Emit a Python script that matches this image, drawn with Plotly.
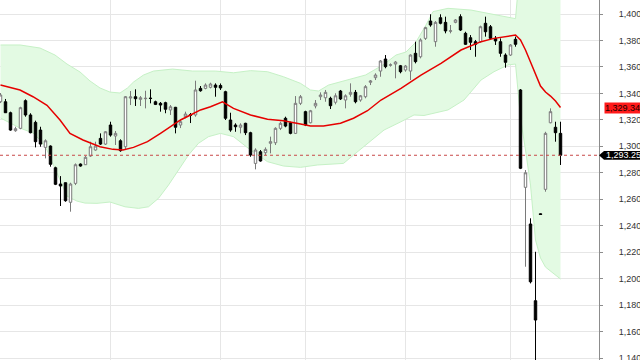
import plotly.graph_objects as go

# ---- candle data ----
opens = [1333.7, 1333.7, 1325.4, 1311.8, 1313.6, 1334.5, 1323.7, 1318.1, 1312.3, 1299.2,
         1300.2, 1283.8, 1271.5, 1272.5, 1257.7, 1272.0, 1286.6, 1286.1, 1292.7, 1297.2,
         1306.0, 1301.7, 1316.1, 1307.8, 1304.2, 1299.7, 1336.5, 1337.5, 1335.5, 1336.0,
         1336.4, 1333.7, 1332.5, 1333.0, 1327.5, 1329.5, 1316.1, 1322.4, 1323.9, 1323.7,
         1343.8, 1343.8, 1344.6, 1346.3, 1346.0, 1341.3, 1319.9, 1316.1, 1314.4, 1317.4,
         1310.3, 1287.1, 1295.9, 1295.2, 1302.3, 1302.7, 1313.6, 1321.2, 1317.8, 1309.8,
         1332.5, 1326.2, 1317.8, 1330.5, 1337.5, 1336.7, 1336.3, 1333.3, 1341.8, 1335.0,
         1339.3, 1340.8, 1335.0, 1337.5, 1348.4, 1351.9, 1356.9, 1366.0, 1361.3, 1362.2,
         1360.9, 1357.7, 1356.9, 1370.3, 1367.7, 1381.6, 1394.7, 1379.1, 1397.2, 1393.7,
         1387.0, 1393.7, 1398.0, 1385.4, 1382.1, 1379.1, 1379.1, 1393.0, 1390.4, 1381.6,
         1379.1, 1369.0, 1369.0, 1380.9, 1342.6, 1269.0, 1241.3, 1183.3, 1249.0, 1267.5,
         1317.8, 1314.4, 1309.8]
highs = [1340.3, 1335.8, 1326.2, 1314.8, 1329.9, 1335.5, 1325.0, 1319.4, 1314.8, 1305.3,
         1300.7, 1284.6, 1277.5, 1272.6, 1272.5, 1287.1, 1287.1, 1292.7, 1303.5, 1303.5,
         1309.8, 1311.5, 1318.6, 1311.6, 1305.3, 1338.0, 1341.8, 1343.1, 1338.0, 1342.0,
         1343.1, 1334.5, 1333.5, 1333.7, 1331.2, 1329.8, 1319.9, 1326.2, 1325.2, 1349.6,
         1345.6, 1347.6, 1348.1, 1347.6, 1347.5, 1342.0, 1325.4, 1317.4, 1317.4, 1317.8,
         1311.0, 1298.5, 1297.2, 1299.2, 1307.3, 1314.4, 1318.6, 1322.4, 1318.6, 1338.0,
         1338.8, 1326.9, 1327.5, 1335.0, 1340.8, 1342.6, 1337.5, 1340.1, 1342.6, 1339.3,
         1347.6, 1342.6, 1338.8, 1346.3, 1350.1, 1355.2, 1365.2, 1369.0, 1362.7, 1364.5,
         1361.5, 1361.5, 1369.5, 1379.1, 1381.6, 1390.4, 1399.8, 1394.7, 1399.8, 1398.0,
         1391.7, 1396.2, 1399.8, 1386.6, 1384.1, 1380.4, 1391.2, 1398.0, 1391.7, 1383.4,
         1381.6, 1370.3, 1377.3, 1382.9, 1343.3, 1282.1, 1245.6, 1220.3, 1249.3, 1311.0,
         1328.7, 1318.6, 1318.6]
lows = [1332.7, 1325.2, 1311.8, 1311.0, 1312.9, 1322.4, 1309.8, 1299.2, 1299.7, 1290.9,
        1284.6, 1270.7, 1254.9, 1258.1, 1250.6, 1270.7, 1284.6, 1285.9, 1292.1, 1296.7,
        1301.0, 1301.0, 1307.3, 1301.0, 1295.9, 1297.2, 1331.2, 1330.5, 1330.5, 1328.7,
        1332.5, 1331.2, 1326.2, 1325.0, 1323.7, 1309.8, 1313.8, 1321.2, 1317.6, 1322.4,
        1341.3, 1343.1, 1343.8, 1337.5, 1342.6, 1319.9, 1311.0, 1311.0, 1309.8, 1308.5,
        1292.1, 1282.6, 1288.4, 1293.4, 1294.7, 1301.0, 1312.3, 1314.4, 1309.1, 1309.3,
        1331.2, 1315.3, 1317.4, 1328.7, 1335.0, 1333.7, 1328.2, 1331.7, 1335.0, 1328.7,
        1337.5, 1332.5, 1333.7, 1336.3, 1346.3, 1350.1, 1352.6, 1359.0, 1360.2, 1351.4,
        1355.2, 1356.4, 1350.1, 1362.7, 1366.5, 1380.4, 1390.4, 1375.3, 1392.2, 1385.4,
        1385.4, 1393.0, 1387.2, 1376.6, 1372.8, 1367.7, 1378.1, 1382.9, 1380.4, 1376.6,
        1367.7, 1359.4, 1368.3, 1375.3, 1282.8, 1209.0, 1196.4, 1120.0, 1248.3, 1265.7,
        1317.4, 1303.5, 1285.9]
closes = [1338.8, 1325.4, 1312.3, 1313.3, 1329.2, 1323.7, 1310.3, 1303.5, 1301.7, 1304.2,
          1286.4, 1271.3, 1270.0, 1258.9, 1271.5, 1286.1, 1285.1, 1291.7, 1299.7, 1300.2,
          1301.7, 1311.0, 1308.5, 1309.8, 1296.7, 1337.5, 1337.3, 1336.0, 1336.7, 1336.3,
          1336.2, 1331.7, 1331.2, 1328.0, 1329.9, 1314.4, 1318.6, 1324.4, 1323.5, 1342.6,
          1342.0, 1346.3, 1347.1, 1344.6, 1344.1, 1321.2, 1312.3, 1314.8, 1316.1, 1310.3,
          1293.4, 1297.2, 1288.9, 1297.7, 1303.5, 1313.6, 1317.4, 1315.3, 1309.8, 1332.5,
          1337.5, 1316.1, 1326.9, 1332.5, 1338.8, 1340.8, 1330.7, 1338.2, 1335.8, 1338.2,
          1340.8, 1333.7, 1338.2, 1345.1, 1349.4, 1353.9, 1364.5, 1360.2, 1361.6, 1363.7,
          1356.4, 1360.7, 1369.0, 1364.0, 1380.4, 1389.7, 1391.7, 1393.7, 1393.0, 1387.2,
          1387.3, 1395.5, 1387.9, 1377.1, 1378.6, 1377.1, 1390.4, 1386.6, 1381.6, 1379.6,
          1370.3, 1363.5, 1376.6, 1377.1, 1283.4, 1280.0, 1197.6, 1168.7, 1248.5, 1309.8,
          1326.2, 1310.3, 1293.25]
candle_idx = list(range(len(opens)))

# ---- moving average (red line) ----
ma_x = [0, 3.9, 6.5, 9.3, 11.9, 13.9, 16.5, 19.9, 22.5, 24.5, 26.6, 29.4, 32.0, 34.0, 36.0,
        38.0, 40.0, 42.0, 44.4, 46.6, 50.0, 53.4, 56.6, 60.0, 62.0, 64.6, 68.0, 70.6, 73.4,
        76.1, 80.1, 84.1, 88.1, 92.1, 96.1, 98.7, 103, 104, 105, 106, 107, 108, 109, 110,
        111, 112]
ma_vals = [1346.3, 1342.6, 1337.5, 1331.0, 1319.9, 1309.8, 1304.8, 1299.7, 1297.7, 1297.2,
           1299.2, 1303.5, 1309.8, 1314.8, 1319.9, 1323.7, 1327.5, 1329.9, 1333.7, 1328.7,
           1323.7, 1320.4, 1319.4, 1316.9, 1315.3, 1315.3, 1317.4, 1321.2, 1326.9, 1335.0,
           1343.8, 1353.9, 1362.7, 1372.8, 1379.1, 1381.6, 1384.1, 1380.4, 1372.8, 1363.7,
           1354.7, 1345.6, 1341.0, 1338.0, 1334.2, 1329.34]

# ---- envelope band (green) ----
up_x = [0, 3.9, 7.9, 10.9, 13.3, 15.9, 17.9, 19.9, 21.9, 23.9, 25.4, 26.6, 28.6, 30.6, 34.4,
        38.4, 43.0, 46.6, 50.0, 53.4, 56.6, 60.0, 62.0, 63.6, 65.6, 69.6, 73.0, 76.5, 79.1,
        81.1, 83.1, 85.1, 86.5, 89.5, 94.1, 97.5, 102.1, 103, 104, 105, 106, 107, 108, 109,
        110, 111, 112]
up_vals = [1376.6, 1376.6, 1374.3, 1369.0, 1362.2, 1356.2, 1349.4, 1344.1, 1341.0, 1340.3,
           1344.1, 1348.6, 1353.9, 1356.9, 1358.4, 1356.9, 1356.9, 1355.6, 1357.2, 1356.4,
           1352.6, 1347.6, 1342.6, 1341.8, 1346.3, 1350.1, 1353.9, 1361.5, 1369.0, 1371.3,
           1378.9, 1391.7, 1401.8, 1404.3, 1403.0, 1400.5, 1396.8, 1396.5, 1439.4, 1448.4,
           1456.7, 1480.2, 1475.6, 1473.3, 1470.3, 1465.7, 1459.0]
lo_x = [0, 3.9, 6.5, 7.9, 9.3, 10.9, 12.3, 13.3, 15.3, 16.9, 19.3, 21.9, 24.9, 27.6, 29.6,
        31.6, 33.6, 35.6, 37.6, 39.6, 41.6, 44.0, 46.6, 50.0, 53.4, 56.6, 60.0, 63.4, 66.6,
        68.6, 70.6, 73.4, 76.7, 80.1, 82.7, 84.7, 89.5, 92.7, 96.1, 98.7, 101.5, 103, 104,
        105, 106, 107, 108, 109, 110, 111, 112]
lo_vals = [1321.4, 1313.8, 1310.1, 1304.8, 1297.2, 1283.6, 1270.7, 1262.4, 1258.6, 1257.1,
           1256.9, 1257.9, 1254.3, 1253.1, 1254.3, 1260.7, 1270.7, 1282.1, 1293.4, 1302.3,
           1307.3, 1309.8, 1307.3, 1297.2, 1288.4, 1285.1, 1284.1, 1285.9, 1286.6, 1287.1,
           1293.4, 1302.3, 1312.3, 1318.6, 1323.7, 1323.3, 1327.5, 1335.0, 1350.1, 1356.4,
           1361.5, 1362.2, 1321.4, 1297.2, 1270.7, 1229.2, 1215.6, 1208.7, 1205.7, 1202.7,
           1199.7]

# ---- axes ----
month_starts = [22, 44, 61, 81, 102]
y_ticks = list(range(1140, 1401, 20))
X_RANGE = [-0.1, 119.7]
Y_RANGE = [1138.5, 1410.6]
FONT = "Liberation Sans, Arial, sans-serif"

fig = go.Figure()
# band on the base axes (drawn underneath)
fig.add_trace(go.Scatter(x=up_x, y=up_vals, mode="lines",
                         line=dict(color="#c6f1c6", width=1), hoverinfo="skip"))
fig.add_trace(go.Scatter(x=lo_x, y=lo_vals, mode="lines", fill="tonexty",
                         fillcolor="#e3fae3",
                         line=dict(color="#c6f1c6", width=1), hoverinfo="skip"))
# candles and MA on an overlaying pair of axes (drawn above the band)
fig.add_trace(go.Candlestick(
    x=candle_idx, open=opens, high=highs, low=lows, close=closes,
    xaxis="x2", yaxis="y2",
    increasing=dict(line=dict(color="#7a7a7a", width=1), fillcolor="white"),
    decreasing=dict(line=dict(color="#000000", width=1), fillcolor="black"),
    whiskerwidth=0))
fig.add_trace(go.Scatter(x=ma_x, y=ma_vals, mode="lines", xaxis="x2", yaxis="y2",
                         line=dict(color="#e60000", width=1.5), hoverinfo="skip"))

last_close = closes[-1]
last_ma = ma_vals[-1]
fig.add_hline(y=last_close, line=dict(color="#c84848", width=1, dash="dot"))

fig.add_annotation(xref="paper", yref="y", x=1, y=last_ma, xanchor="left", yanchor="middle",
                   xshift=5, text=f"{last_ma:,.2f}", showarrow=False,
                   bgcolor="#ff1a1a", borderpad=0,
                   font=dict(family=FONT, size=9, color="#200000"))
fig.add_shape(type="path", xref="paper", yref="y", xsizemode="pixel", xanchor=1,
              path=f"M 0,{last_close} L 5,{last_close+3.3} L 45,{last_close+3.3} "
                   f"L 45,{last_close-3.3} L 5,{last_close-3.3} Z",
              fillcolor="black", line=dict(width=0), layer="above")
fig.add_annotation(xref="paper", yref="y", x=1, y=last_close, xanchor="left", yanchor="middle",
                   xshift=5, text=f"{last_close:,.2f}", showarrow=False,
                   font=dict(family=FONT, size=9, color="white"))

fig.update_layout(
    width=640, height=360, margin=dict(l=0, r=41, t=0, b=0, autoexpand=False),
    paper_bgcolor="white", plot_bgcolor="white", showlegend=False,
    xaxis=dict(range=X_RANGE, tickvals=month_starts,
               showticklabels=False, showgrid=True, gridcolor="#e6e6e6", zeroline=False,
               showline=False, ticks=""),
    yaxis=dict(side="right", range=Y_RANGE, tickvals=y_ticks, tickformat=",d",
               showgrid=True, gridcolor="#e6e6e6", zeroline=False, showline=True,
               linecolor="#8c8c8c", linewidth=1, ticks="outside", ticklen=3,
               tickcolor="#8c8c8c", ticklabelstandoff=14, ticklabeloverflow="allow",
               tickfont=dict(family=FONT, size=9, color="#333333")),
    xaxis2=dict(overlaying="x", range=X_RANGE, visible=False,
                rangeslider=dict(visible=False)),
    yaxis2=dict(overlaying="y", range=Y_RANGE, visible=False, side="right"),
)
fig.write_html("out.html", config={"displayModeBar": False},
               post_script="document.body.style.margin='0';")
